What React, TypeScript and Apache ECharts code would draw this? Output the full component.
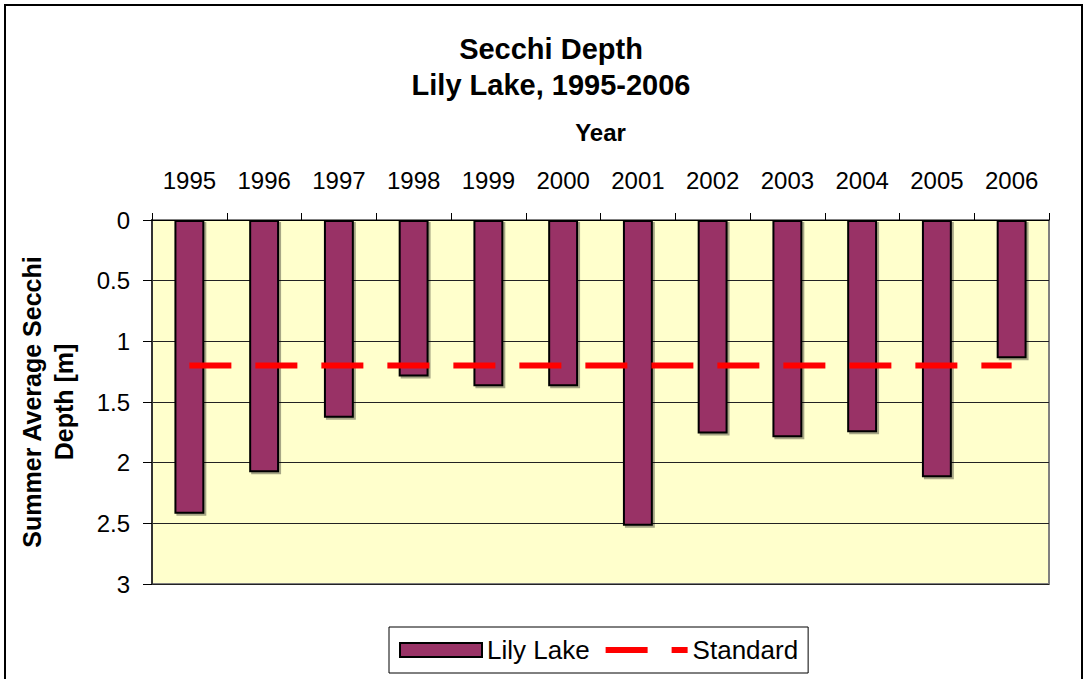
import React, { useEffect, useRef } from "react";
import * as echarts from "echarts";

const years = ["1995", "1996", "1997", "1998", "1999", "2000", "2001", "2002", "2003", "2004", "2005", "2006"];
const lilyLake = [2.42, 2.08, 1.63, 1.29, 1.37, 1.37, 2.52, 1.76, 1.79, 1.75, 2.12, 1.14];
const standard = [1.2, 1.2, 1.2, 1.2, 1.2, 1.2, 1.2, 1.2, 1.2, 1.2, 1.2, 1.2];
const yTicks = { min: 0, max: 3, interval: 0.5 };

const FONT = "'Liberation Sans', Arial, sans-serif";

export default function App() {
  const ref = useRef<HTMLDivElement>(null);
  useEffect(() => {
    if (!ref.current) return;
    const chart = echarts.init(ref.current, undefined, { renderer: "svg" });
    chart.setOption({
      animation: false,
      backgroundColor: "#ffffff",
      textStyle: { fontFamily: FONT },
      title: {
        text: "Secchi Depth\nLily Lake, 1995-2006",
        left: 546,
        textAlign: "center",
        top: 26,
        textStyle: { fontFamily: FONT, fontSize: 29, fontWeight: "bold", color: "#000", lineHeight: 36 },
      },
      graphic: [
        {
          type: "rect",
          shape: { x: 5, y: 5, width: 1077, height: 700 },
          style: { fill: "none", stroke: "#000", lineWidth: 2 },
          silent: true,
          z: 100,
        },
      ],
      legend: {
        left: 389,
        top: 627,
        orient: "horizontal",
        padding: [10, 10, 10, 10],
        itemGap: 13,
        itemWidth: 82,
        itemHeight: 14,
        borderColor: "#000",
        borderWidth: 1,
        textStyle: { fontFamily: FONT, fontSize: 26, color: "#000" },
        data: [
          { name: "Lily Lake", icon: "rect" },
          {
            name: "Standard",
            itemStyle: { opacity: 0 },
            lineStyle: { color: "#FF0000", width: 6, type: [42, 24] },
          },
        ],
      },
      grid: {
        left: 152,
        right: 35,
        top: 220,
        bottom: 95,
        outerBoundsMode: "none",
        containLabel: false,
        show: true,
        backgroundColor: "#FFFFCC",
        borderColor: "#808080",
        borderWidth: 2,
      },
      xAxis: {
        type: "category",
        data: years,
        position: "top",
        name: "Year",
        nameLocation: "middle",
        nameGap: 76,
        nameTextStyle: { fontFamily: FONT, fontSize: 24, fontWeight: "bold", color: "#000" },
        axisLine: { show: true, lineStyle: { color: "#000", width: 1 } },
        axisTick: { show: true, length: 7, lineStyle: { color: "#000" } },
        axisLabel: { fontFamily: FONT, fontSize: 24, color: "#000", margin: 28 },
        splitLine: { show: false },
      },
      yAxis: {
        type: "value",
        inverse: true,
        min: yTicks.min,
        max: yTicks.max,
        interval: yTicks.interval,
        name: "Summer Average Secchi\nDepth [m]",
        nameLocation: "middle",
        nameGap: 72,
        nameRotate: 90,
        nameTextStyle: { fontFamily: FONT, fontSize: 25, fontWeight: "bold", color: "#000", lineHeight: 32 },
        axisLine: { show: true, lineStyle: { color: "#333", width: 2 } },
        axisTick: { show: true, length: 9, lineStyle: { color: "#000" } },
        axisLabel: { fontFamily: FONT, fontSize: 24, color: "#000", margin: 22 },
        splitLine: { show: true, lineStyle: { color: "#222", width: 1 } },
      },
      series: [
        {
          name: "Lily Lake",
          type: "bar",
          data: lilyLake,
          barWidth: "40%",
          itemStyle: {
            color: "#993366",
            borderColor: "#000",
            borderWidth: 2,
            shadowColor: "rgba(0,0,0,0.35)",
            shadowOffsetX: 2,
            shadowOffsetY: 2,
          },
        },
        {
          name: "Standard",
          type: "line",
          data: standard,
          symbol: "none",
          lineStyle: { color: "#FF0000", width: 6, type: [42, 24] },
          itemStyle: { color: "#FF0000" },
          z: 5,
        },
      ],
    });
    return () => chart.dispose();
  }, []);
  return (
    <div
      ref={ref}
      style={{ position: "fixed", left: 0, top: 0, width: 1084, height: 679 }}
    />
  );
}
